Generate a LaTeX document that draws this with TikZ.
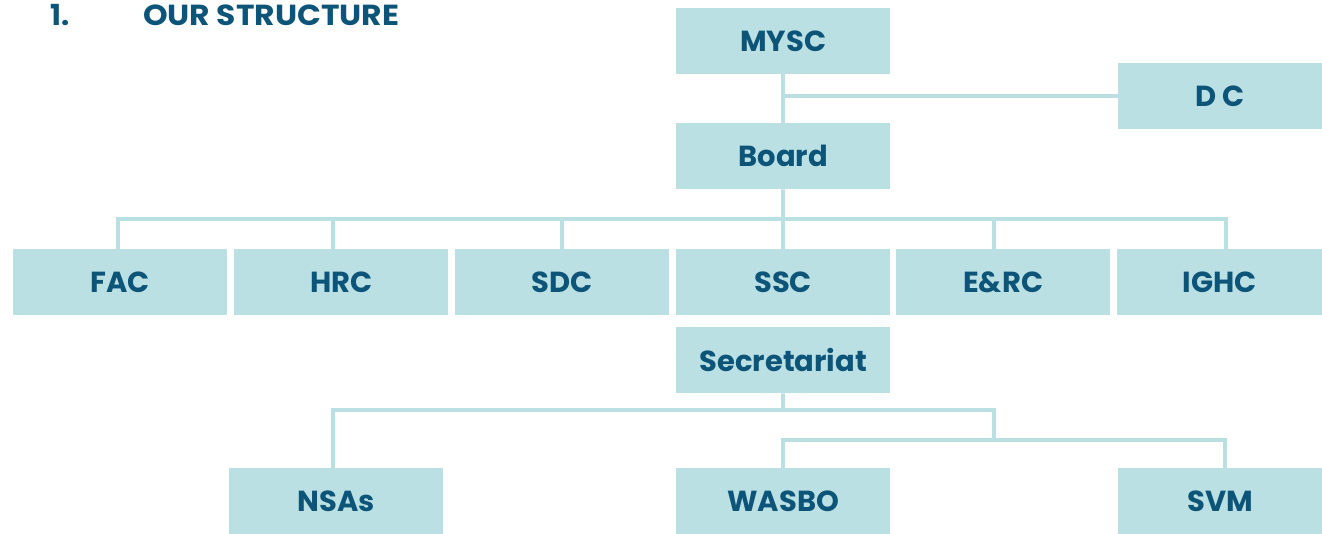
\documentclass[tikz,border=0pt]{standalone}
\usepackage{fontspec}
\setmainfont{Poppins}
\definecolor{boxfill}{HTML}{BAE0E3}
\definecolor{txt}{HTML}{0D5479}
\begin{document}
\begin{tikzpicture}[x=1pt,y=-1pt,
  box/.style={fill=boxfill, draw=none, anchor=north west, minimum width=214pt, minimum height=66pt, inner sep=0pt, text=txt, font=\bfseries\fontsize{29}{32}\selectfont},
  conn/.style={draw=boxfill, line width=4pt},
  ttl/.style={anchor=base west, inner sep=0pt, text=txt, font=\bfseries\fontsize{29}{32}\selectfont}]
\useasboundingbox (0,0) rectangle (1322,534);
\node[ttl] (num) at (50,26) {1.};
\node[ttl, xscale=1.08] (title) at (143,26) {OUR STRUCTURE};
\node[box] (mysc) at (676,8) {MYSC};
\node[box, minimum width=204pt] (dc) at (1118,63) {D C};
\node[box] (board) at (676,123) {Board};
\node[box] (fac) at (13,249) {FAC};
\node[box] (hrc) at (234,249) {HRC};
\node[box] (sdc) at (455,249) {SDC};
\node[box] (ssc) at (676,249) {SSC};
\node[box] (erc) at (896,249) {E\&RC};
\node[box, minimum width=205pt] (ighc) at (1117,249) {IGHC};
\node[box] (sec) at (676,327) {Secretariat};
\node[box] (nsas) at (229,468) {NSAs};
\node[box] (wasbo) at (676,468) {WASBO};
\node[box, minimum width=204pt] (svm) at (1118,468) {SVM};
\coordinate (hb) at (783,219);
\coordinate (hs) at (783,410);
\coordinate (hw) at (994,440);
\draw[conn] (mysc.south) -- (board.north);
\draw[conn] (mysc.south |- dc.west) -- (dc.west);
\draw[conn] (board.south) -- (hb);
\draw[conn] ([xshift=-2pt]fac.north) -- ([xshift=-2pt]fac.north |- hb) -- ([xshift=6pt]ighc.north |- hb) -- ([xshift=6pt]ighc.north);
\draw[conn] ([xshift=-8pt]hrc.north) -- ([xshift=-8pt]hrc.north |- hb);
\draw[conn] (sdc.north) -- (sdc.north |- hb);
\draw[conn] (ssc.north) -- (ssc.north |- hb);
\draw[conn] ([xshift=-9pt]erc.north) -- ([xshift=-9pt]erc.north |- hb);
\draw[conn] (sec.south) -- (hs);
\draw[conn] ([xshift=-3pt]nsas.north) -- ([xshift=-3pt]nsas.north |- hs) -- (hw |- hs) -- (hw);
\draw[conn] (wasbo.north) -- (wasbo.north |- hw) -- ([xshift=5pt]svm.north |- hw) -- ([xshift=5pt]svm.north);
\end{tikzpicture}
\end{document}
